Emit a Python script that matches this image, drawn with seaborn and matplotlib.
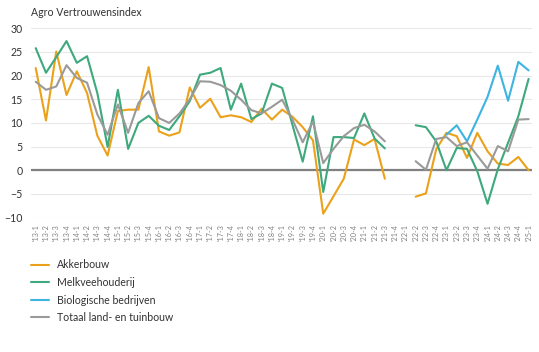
import numpy as np
import pandas as pd
import matplotlib
import matplotlib.pyplot as plt
import seaborn as sns

matplotlib.use('Agg')

# quarters '13-1 ... '25-1
quarters = [f"'{y % 100:02d}-{q}" for y in range(2013, 2026) for q in range(1, 5)][:49]

nan = np.nan
akkerbouw = [21.6, 10.5, 25.1, 15.9, 20.9, 16.3, 7.3, 3.1, 12.5, 12.8, 12.8, 21.8, 8.2,
             7.3, 8.0, 17.5, 13.2, 15.1, 11.2, 11.6, 11.2, 10.2, 13.0, 10.7, 12.8,
             11.3, 9.1, 6.3, -9.2, -5.5, -1.8, 6.5, 5.3, 6.6, -1.8, nan, nan,
             -5.6, -4.9, 4.4, 7.9, 7.2, 2.6, 7.9, 4.0, 1.4, 1.1, 2.8, 0.0]
melkvee = [25.8, 20.6, 23.9, 27.3, 22.7, 24.1, 16.3, 4.9, 17.0, 4.5, 10.0, 11.5, 9.4,
           8.5, 11.4, 14.6, 20.2, 20.6, 21.6, 12.8, 18.3, 10.8, 12.0, 18.3, 17.4,
           9.6, 1.8, 11.4, -4.6, 7.0, 7.0, 6.8, 12.0, 6.7, 4.6, nan, nan,
           9.5, 9.1, 6.1, 0.0, 4.7, 4.5, -0.2, -7.1, 0.2, 5.8, 11.4, 19.3]
biologisch = [nan] * 40 + [7.5, 9.5, 6.1, 10.7, 15.5, 22.1, 14.7, 22.9, 21.1]
totaal = [18.7, 17.0, 17.7, 22.2, 19.5, 18.5, 11.8, 7.5, 13.9, 7.9, 14.2, 16.7, 11.0,
          10.0, 12.0, 15.0, 18.8, 18.7, 18.0, 16.8, 14.9, 12.7, 12.0, 13.4, 14.9,
          10.7, 5.9, 10.3, 1.5, 4.5, 7.2, 8.9, 9.6, 8.2, 6.1, nan, nan,
          1.9, 0.1, 6.6, 7.0, 5.1, 5.9, 3.1, 0.3, 5.1, 4.0, 10.7, 10.8]

names = ['Akkerbouw', 'Melkveehouderij', 'Biologische bedrijven', 'Totaal land- en tuinbouw']
colors = ['#EBA11A', '#3DA97C', '#3DB4E2', '#9A9A9A']

# split every series into contiguous pieces so the gap stays open
rows = []
for name, vals in zip(names, [akkerbouw, melkvee, biologisch, totaal]):
    seg = 0
    prev_nan = True
    for i, v in enumerate(vals):
        if np.isnan(v):
            prev_nan = True
            continue
        if prev_nan:
            seg += 1
            prev_nan = False
        rows.append({'x': i, 'value': v, 'serie': name, 'seg': seg})
df = pd.DataFrame(rows)

sns.set_style('white')
plt.rcParams['font.family'] = ['Lato', 'DejaVu Sans']

fig = plt.figure(figsize=(5.39, 3.52), dpi=100)
ax = fig.add_axes([31 / 539, 1 - 217.5 / 352, 501 / 539, 189.2 / 352])

sns.lineplot(data=df, x='x', y='value', hue='serie', units='seg', estimator=None,
             hue_order=names, palette=colors, linewidth=1.5, ax=ax, legend=False,
             zorder=3)

ax.set_ylim(-10, 30)
ax.set_yticks(range(-10, 31, 5))
ax.set_xlim(-0.46, 48.33)
ax.set_xticks(range(len(quarters)))
ax.set_xticklabels(quarters, rotation=90, fontsize=5.2, color='#808080')
ax.tick_params(axis='y', labelsize=7.6, labelcolor='#333333', length=0, pad=6)
ax.tick_params(axis='x', length=0, pad=5)
ax.grid(axis='y', color='#e8e8e8', linewidth=0.8)
ax.axhline(0, color='#808080', linewidth=1.6, zorder=2)
for s in ax.spines.values():
    s.set_visible(False)
ax.set_xlabel('')
ax.set_ylabel('')

fig.text(31 / 539, 1 - 12 / 352, 'Agro Vertrouwensindex', fontsize=7.6,
         color='#333333', va='center', ha='left')

handles = [plt.Line2D([], [], color=c, linewidth=1.5) for c in colors]
ax.legend(handles, names, loc='upper left', bbox_to_anchor=(31 / 539, 1 - 259.5 / 352),
          bbox_transform=fig.transFigure, frameon=False, fontsize=7.6,
          handlelength=1.7, handletextpad=0.8, labelspacing=0.62,
          borderpad=0, borderaxespad=0, labelcolor='#333333')

fig.savefig('out.png', dpi=100)
